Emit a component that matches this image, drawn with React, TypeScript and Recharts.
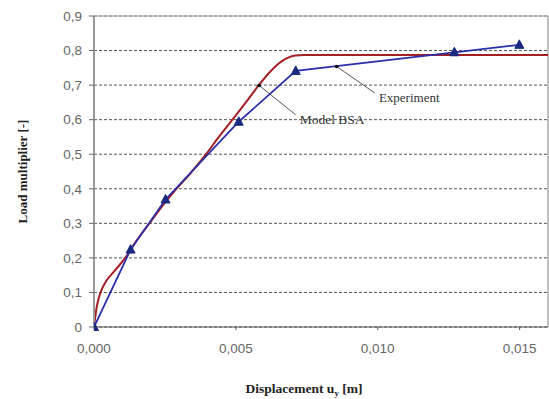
import React from 'react';
import {
  ComposedChart,
  Line,
  XAxis,
  YAxis,
  CartesianGrid,
  ReferenceLine,
  ReferenceDot,
  Label,
} from 'recharts';

// Experiment (blue, triangles)
const experimentX = [0, 0.00129, 0.00252, 0.0051, 0.00711, 0.0127, 0.01499];
const experimentY = [0, 0.224, 0.369, 0.594, 0.741, 0.795, 0.8165];

// Model BSA (red curve)
const modelX = [0, 0.0001, 0.00023, 0.00043, 0.0007, 0.0011, 0.0015, 0.002, 0.0025, 0.0028, 0.0034, 0.00395, 0.0044, 0.00488, 0.0054, 0.0058, 0.0062, 0.0065, 0.0068, 0.0071, 0.0074, 0.016];
const modelY = [0, 0.06, 0.1, 0.133, 0.16, 0.2, 0.25, 0.305, 0.36, 0.39, 0.445, 0.5, 0.55, 0.6, 0.655, 0.699, 0.738, 0.762, 0.778, 0.786, 0.787, 0.787];

// Annotation leaders: [start on curve, end near text]
const modelLeaderX = [0.00582, 0.00711];
const modelLeaderY = [0.699, 0.614];
const experimentLeaderX = [0.00855, 0.0099];
const experimentLeaderY = [0.754, 0.677];
const annotationLabels = ['Model BSA', 'Experiment'];

const xTicks = [0, 0.005, 0.01, 0.015];
const yTicks = [0, 0.1, 0.2, 0.3, 0.4, 0.5, 0.6, 0.7, 0.8, 0.9];
const xDomain = [0, 0.016];
const yDomain = [0, 0.9];

const zip = (xs: number[], ys: number[]) => xs.map((x, i) => ({ x, y: ys[i] }));

const experimentData = zip(experimentX, experimentY);
const modelData = zip(modelX, modelY);
const modelLeader = zip(modelLeaderX, modelLeaderY);
const experimentLeader = zip(experimentLeaderX, experimentLeaderY);

const Triangle = (props: any) => {
  const { cx, cy, index } = props;
  if (cx == null || cy == null) return <g key={index} />;
  return (
    <polygon
      key={index}
      points={`${cx},${cy - 5} ${cx - 4.5},${cy + 3.5} ${cx + 4.5},${cy + 3.5}`}
      fill="#1a2a80"
      stroke="#1a2a80"
    />
  );
};

const LeaderDot = (props: any) => {
  const { cx, cy, index } = props;
  if (index !== 0) return <g key={index} />;
  return <circle key={index} cx={cx} cy={cy} r={1.8} fill="#000" />;
};

const fmtX = (v: number) => v.toFixed(3).replace('.', ',');
const fmtY = (v: number) => (v === 0 ? '0' : v.toFixed(1).replace('.', ','));

const tickStyle = { fill: '#666', fontSize: 13.5, fontFamily: 'Liberation Sans, Arial, sans-serif' };

export default function App() {
  return (
    <div style={{ position: 'absolute', left: 0, top: 0, width: 549, height: 399, background: '#fff' }}>
      <ComposedChart
        width={549}
        height={399}
        margin={{ top: 16, right: 1, bottom: 0, left: 0 }}
      >
        <CartesianGrid
          horizontal
          vertical={false}
          stroke="#555"
          strokeDasharray="3 2"
        />
        <XAxis
          type="number"
          dataKey="x"
          domain={xDomain}
          ticks={xTicks}
          tickFormatter={fmtX}
          allowDataOverflow
          height={72}
          axisLine={{ stroke: '#555', strokeWidth: 1.2 }}
          tickLine={{ stroke: '#555' }}
          tickSize={3}
          tickMargin={13}
          tick={tickStyle}
        >
          <Label
            content={(p: any) => {
              const vb = p.viewBox;
              return (
                <text
                  x={vb.x + 210}
                  y={vb.y + 66}
                  textAnchor="middle"
                  fontFamily="Liberation Serif, Times New Roman, serif"
                  fontWeight="bold"
                  fontSize={13.5}
                  fill="#222"
                >
                  Displacement u
                  <tspan fontSize={9} dy={3}>y</tspan>
                  <tspan dy={-3}>{'  [m]'}</tspan>
                </text>
              );
            }}
          />
        </XAxis>
        <YAxis
          type="number"
          domain={yDomain}
          ticks={yTicks}
          tickFormatter={fmtY}
          width={94}
          axisLine={{ stroke: '#999', strokeWidth: 2 }}
          tickLine={{ stroke: '#666' }}
          tickSize={5}
          tickMargin={7}
          tick={tickStyle}
        >
          <Label
            content={(p: any) => {
              const vb = p.viewBox;
              const cx = vb.x + 22;
              const cy = vb.y + vb.height / 2;
              return (
                <text
                  x={cx}
                  y={cy}
                  transform={`rotate(-90, ${cx}, ${cy})`}
                  textAnchor="middle"
                  dominantBaseline="central"
                  fontFamily="Liberation Serif, Times New Roman, serif"
                  fontWeight="bold"
                  fontSize={13}
                  fill="#222"
                >
                  Load multiplier [-]
                </text>
              );
            }}
          />
        </YAxis>
        <ReferenceLine y={0.9} stroke="#aaa" strokeWidth={1} />
        <ReferenceLine x={0.016} stroke="#aaa" strokeWidth={1.5} />
        <Line
          data={modelLeader}
          dataKey="y"
          stroke="#555"
          strokeWidth={1}
          dot={LeaderDot}
          isAnimationActive={false}
          legendType="none"
        />
        <Line
          data={experimentLeader}
          dataKey="y"
          stroke="#555"
          strokeWidth={1}
          dot={LeaderDot}
          isAnimationActive={false}
          legendType="none"
        />
        <Line
          data={modelData}
          dataKey="y"
          type="monotone"
          stroke="#a31f24"
          strokeWidth={2}
          dot={false}
          isAnimationActive={false}
        />
        <Line
          data={experimentData}
          dataKey="y"
          type="linear"
          stroke="#2b2fa8"
          strokeWidth={1.8}
          dot={Triangle}
          isAnimationActive={false}
        />
        <ReferenceDot
          x={modelLeaderX[1]}
          y={modelLeaderY[1]}
          r={0}
          stroke="none"
          label={{
            value: annotationLabels[0],
            position: 'right',
            offset: 4,
            fill: '#333',
            fontSize: 13.5,
            fontFamily: 'Liberation Serif, Times New Roman, serif',
            dy: 4,
          }}
        />
        <ReferenceDot
          x={experimentLeaderX[1]}
          y={experimentLeaderY[1]}
          r={0}
          stroke="none"
          label={{
            value: annotationLabels[1],
            position: 'right',
            offset: 4,
            fill: '#333',
            fontSize: 13,
            fontFamily: 'Liberation Serif, Times New Roman, serif',
            dy: 4,
          }}
        />
      </ComposedChart>
    </div>
  );
}
